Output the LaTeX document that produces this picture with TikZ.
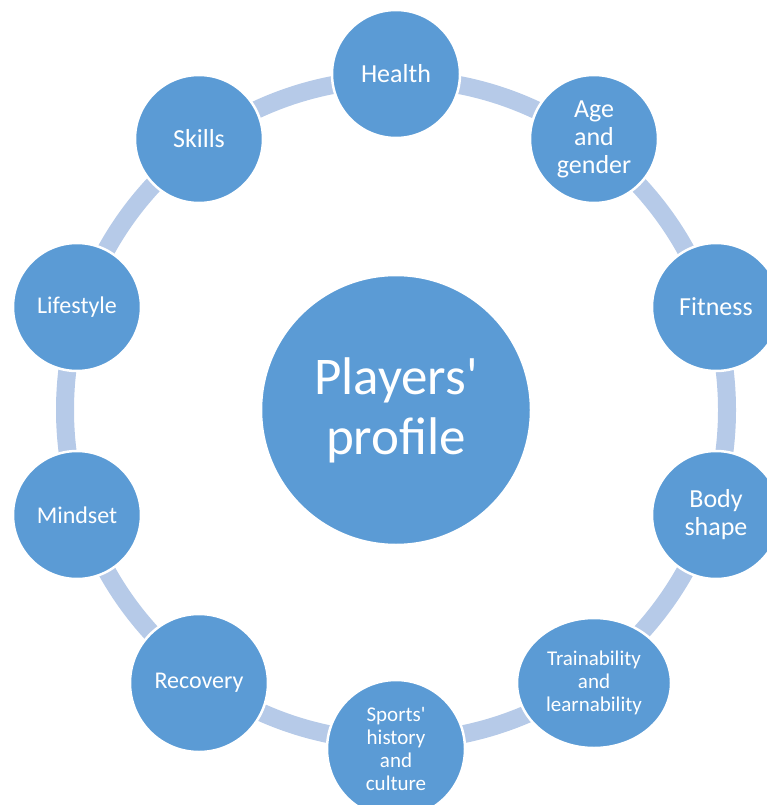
\documentclass[tikz,border=0pt]{standalone}
\usepackage{fontspec}
\setmainfont{Carlito}
\usetikzlibrary{shapes.geometric}
\definecolor{nodeblue}{HTML}{5B9BD5}
\definecolor{ringblue}{HTML}{B6CAE8}
\begin{document}
\begin{tikzpicture}[x=1pt,y=-1pt,
  ring/.style={draw=ringblue,line width=18pt},
  bubble/.style={circle,fill=nodeblue,draw=white,line width=2.5pt,inner sep=0pt,
    align=center,text=white,minimum size=128pt,font=\fontsize{26}{28}\selectfont},
  midtext/.style={font=\fontsize{24}{26}\selectfont},
  smalltext/.style={font=\fontsize{21}{23}\selectfont}]
\useasboundingbox (0,0) rectangle (766,805);
\node[bubble,minimum size=270pt,font=\fontsize{53}{60}\selectfont] (center) at (396,410) {Players\textquotesingle\\profile};
\draw[ring] (center.center) circle (331);
\node[bubble] (health) at (396,74) {Health};
\node[bubble] (age) at (594,139) {Age\\and\\gender};
\node[bubble] (fitness) at (716,307) {Fitness};
\node[bubble] (body) at (716,515) {Body\\shape};
\node[bubble,ellipse,minimum width=154pt,minimum height=130pt,smalltext] (train) at (594,683) {Trainability\\and\\learnability};
\node[bubble,minimum size=138pt,smalltext] (sports) at (396,749) {Sports\textquotesingle\\history\\and\\culture};
\node[bubble,minimum size=138pt,midtext] (recovery) at (199,683) {Recovery};
\node[bubble,midtext] (mindset) at (77,515) {Mindset};
\node[bubble,midtext] (lifestyle) at (77,307) {Lifestyle};
\node[bubble] (skills) at (199,139) {Skills};
\end{tikzpicture}
\end{document}
